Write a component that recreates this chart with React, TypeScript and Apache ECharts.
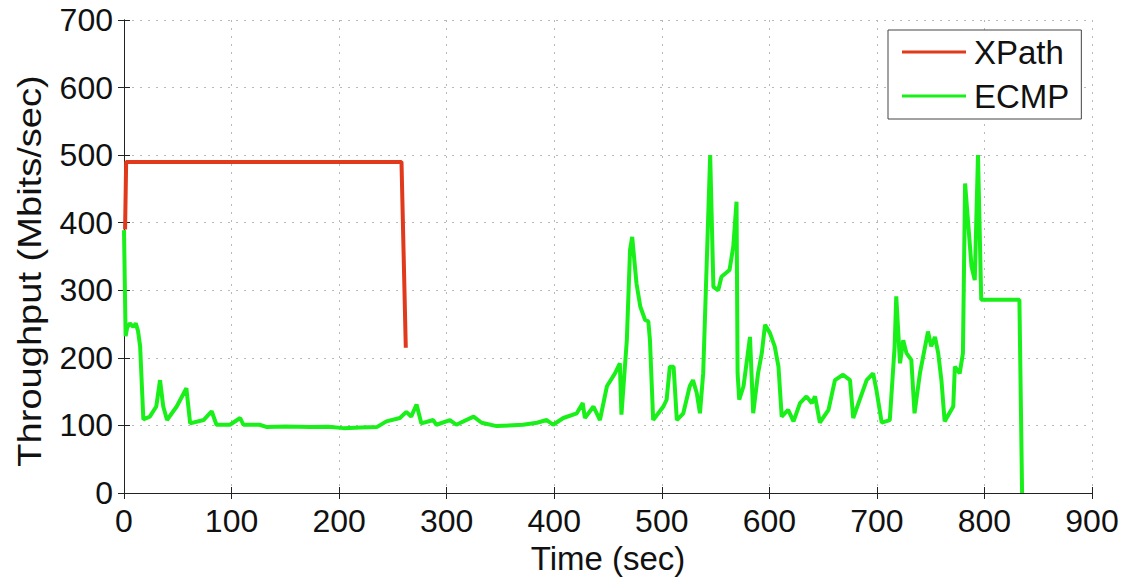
import React, { useEffect, useRef } from "react";
import * as echarts from "echarts";

const xTicks = [0, 100, 200, 300, 400, 500, 600, 700, 800, 900];
const yTicks = [0, 100, 200, 300, 400, 500, 600, 700];
const xTitle = "Time (sec)";
const yTitle = "Throughput (Mbits/sec)";

const xpathTime = [1, 2, 258, 262];
const xpathThroughput = [390, 490, 490, 215];

const ecmpTime = [
  0, 1.5, 3, 5.5, 8.5, 11, 13, 15, 18, 24, 30, 33.5, 36.5, 40, 49, 58, 61.5, 74, 81.5, 86,
  98.5, 108, 111, 126, 133, 150, 173, 190, 204, 220, 235, 244, 256.5, 262.5, 267, 272, 276.5, 287.5, 290.5,
  303, 309, 325, 332.5, 346.5, 371, 384, 393, 399, 408.5, 421, 426.5, 428.5, 436.5, 442.5,
  449, 456.5, 461, 462.5, 467.5, 470.5, 472.5, 476.5, 480, 484.5, 487.5, 489, 492, 501.5,
  504.5, 507.5, 511, 514, 520, 526, 529, 532.5, 535.5, 538.5, 545, 548, 552.5, 555.5, 563,
  566.5, 569.5, 570.5, 572, 576, 582, 585, 589.5, 593, 596, 600.5, 605, 608.5, 611.5, 617.5,
  622.5, 628.5, 634.5, 639.5, 642.5, 647, 655, 661, 668.5, 675, 678, 690.5, 696.5, 699.5,
  704.5, 712, 716.5, 718, 721.5, 724.5, 727.5, 732, 735, 740, 747.5, 750.5, 754, 757, 760,
  763, 771, 772.5, 777, 780, 782, 788, 791, 794, 797, 832.5, 835,
];
const ecmpThroughput = [
  389, 232, 245, 251, 246, 251, 240, 217, 109, 113, 128, 167, 128, 108, 128, 155, 103, 108, 121, 101,
  101, 111, 101, 101, 97.5, 98.5, 97.5, 98, 96, 97, 97.5, 106, 111, 120, 113, 131, 103, 108, 101,
  108, 101, 113, 104, 99, 101, 104, 108, 101, 111, 118, 133, 111, 128, 108,
  158, 177, 192, 116, 226, 360, 379, 310, 276, 256, 254, 226, 108, 128,
  138, 187, 187, 108, 118, 158, 167, 148, 118, 177, 500, 305, 300, 320, 330,
  365, 431, 177, 138, 158, 231, 118, 177, 207, 249, 237, 217, 187, 113, 123,
  106, 133, 143, 133, 143, 104, 123, 167, 175, 167, 111, 167, 177, 153,
  104, 108, 217, 291, 192, 226, 207, 197, 118, 177, 239, 217, 231, 207, 167,
  106, 128, 187, 177, 207, 458, 335, 315, 500, 286, 286, 0,
];

const FONT = "'Liberation Sans', Arial, Helvetica, sans-serif";

export default function App() {
  const ref = useRef<HTMLDivElement>(null);
  useEffect(() => {
    if (!ref.current) return;
    const chart = echarts.init(ref.current, null, { renderer: "svg" });
    const xpathData = xpathTime.map((t, i) => [t, xpathThroughput[i]]);
    const ecmpData = ecmpTime.map((t, i) => [t, ecmpThroughput[i]]);
    const frameAxis = {
      axisLine: { show: true, lineStyle: { color: "#222", width: 1 } },
      axisTick: { show: true, inside: true, length: 6, lineStyle: { color: "#222" } },
      axisLabel: { show: false },
      splitLine: { show: false },
    };
    chart.setOption({
      animation: false,
      backgroundColor: "#fff",
      textStyle: { fontFamily: FONT },
      grid: {
        left: 124,
        right: 44,
        top: 20,
        bottom: 84,
        containLabel: false,
        outerBoundsMode: "none",
      },
      graphic: [
        {
          type: "text",
          x: 29,
          y: 271,
          rotation: Math.PI / 2,
          scaleX: 1.12,
          style: {
            text: yTitle,
            fontSize: 34,
            fontFamily: FONT,
            fill: "#111",
            align: "center",
            verticalAlign: "middle",
          },
        },
      ],
      legend: {
        left: 888,
        top: 30,
        orient: "vertical",
        backgroundColor: "#fff",
        borderColor: "#444",
        borderWidth: 1,
        borderRadius: 0,
        padding: [4, 12, 5, 14],
        itemGap: 8,
        itemWidth: 64,
        itemHeight: 3,
        icon: "rect",
        textStyle: { fontSize: 33, fontFamily: FONT, color: "#111", lineHeight: 36, padding: [0, 0, 0, 3] },
        data: ["XPath", "ECMP"],
      },
      xAxis: [
        {
          type: "value",
          min: 0,
          max: 900,
          interval: 100,
          position: "bottom",
          name: xTitle,
          nameLocation: "middle",
          nameGap: 46,
          nameTextStyle: { fontSize: 33, lineHeight: 33, color: "#111", fontFamily: FONT },
          axisLine: { show: true, onZero: false, lineStyle: { color: "#222", width: 1 } },
          axisTick: { show: true, inside: true, length: 6, lineStyle: { color: "#222" } },
          axisLabel: {
            fontSize: 32,
            color: "#111",
            fontFamily: FONT,
            margin: 12,
            formatter: (v: number) => (xTicks.includes(v) ? String(v) : ""),
          },
          splitLine: { show: true, lineStyle: { color: "#b8b8b8", type: [2, 6], width: 1 } },
        },
        { type: "value", min: 0, max: 900, interval: 100, position: "top", ...frameAxis },
      ],
      yAxis: [
        {
          type: "value",
          min: 0,
          max: 700,
          interval: 100,
          position: "left",
          axisLine: { show: true, onZero: false, lineStyle: { color: "#222", width: 1 } },
          axisTick: { show: true, inside: true, length: 6, lineStyle: { color: "#222" } },
          axisLabel: {
            fontSize: 32,
            color: "#111",
            fontFamily: FONT,
            margin: 11,
            formatter: (v: number) => (yTicks.includes(v) ? String(v) : ""),
          },
          splitLine: { show: true, lineStyle: { color: "#b8b8b8", type: [2, 6], width: 1 } },
        },
        { type: "value", min: 0, max: 700, interval: 100, position: "right", ...frameAxis },
      ],
      series: [
        {
          name: "XPath",
          type: "line",
          data: xpathData,
          showSymbol: false,
          symbol: "none",
          lineStyle: { color: "#e0391b", width: 4 },
          itemStyle: { color: "#e0391b" },
        },
        {
          name: "ECMP",
          type: "line",
          data: ecmpData,
          showSymbol: false,
          symbol: "none",
          lineStyle: { color: "#19f019", width: 4 },
          itemStyle: { color: "#19f019" },
        },
      ],
    });
    return () => chart.dispose();
  }, []);
  return (
    <div
      ref={ref}
      style={{ position: "absolute", left: 0, top: 0, width: 1136, height: 577 }}
    />
  );
}
